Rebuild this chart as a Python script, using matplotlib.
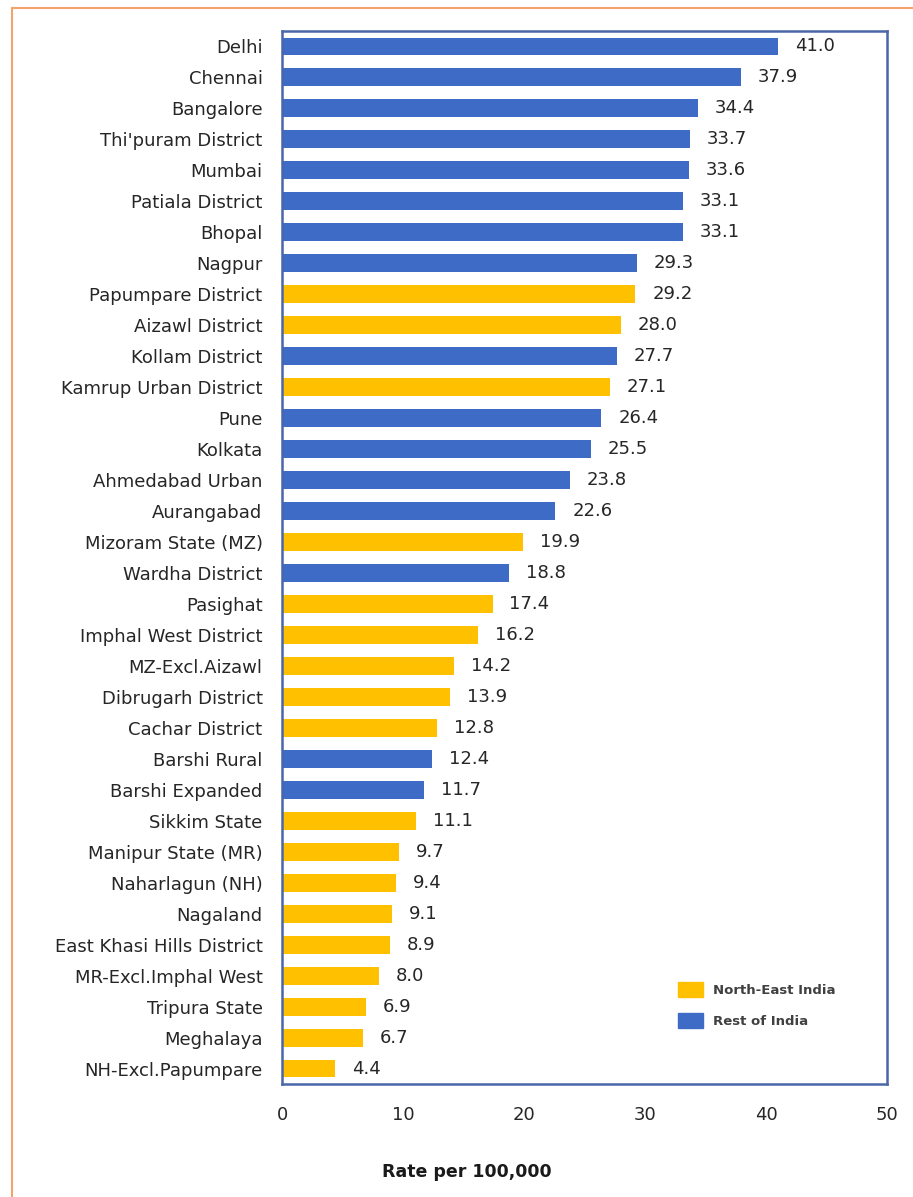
import matplotlib.pyplot as plt
from matplotlib.patches import Patch, Rectangle

plt.rcParams['font.family'] = ['DejaVu Sans']

registries = ["Delhi", "Chennai", "Bangalore", "Thi'puram District", "Mumbai",
              "Patiala District", "Bhopal", "Nagpur", "Papumpare District",
              "Aizawl District", "Kollam District", "Kamrup Urban District",
              "Pune", "Kolkata", "Ahmedabad Urban", "Aurangabad",
              "Mizoram State (MZ)", "Wardha District", "Pasighat",
              "Imphal West District", "MZ-Excl.Aizawl", "Dibrugarh District",
              "Cachar District", "Barshi Rural", "Barshi Expanded",
              "Sikkim State", "Manipur State (MR)", "Naharlagun (NH)",
              "Nagaland", "East Khasi Hills District", "MR-Excl.Imphal West",
              "Tripura State", "Meghalaya", "NH-Excl.Papumpare"]
rates = [41.0, 37.9, 34.4, 33.7, 33.6, 33.1, 33.1, 29.3, 29.2, 28.0, 27.7,
         27.1, 26.4, 25.5, 23.8, 22.6, 19.9, 18.8, 17.4, 16.2, 14.2, 13.9,
         12.8, 12.4, 11.7, 11.1, 9.7, 9.4, 9.1, 8.9, 8.0, 6.9, 6.7, 4.4]
# NE = North-East India registry, R = rest of India
region = ["R", "R", "R", "R", "R", "R", "R", "R", "NE", "NE", "R", "NE",
          "R", "R", "R", "R", "NE", "R", "NE", "NE", "NE", "NE", "NE", "R",
          "R", "NE", "NE", "NE", "NE", "NE", "NE", "NE", "NE", "NE"]

ne_col = '#ffc000'
rest_col = '#3d6bc5'
colors = [ne_col if r == "NE" else rest_col for r in region]

fig = plt.figure(figsize=(9.13, 11.97), dpi=100)
ax = fig.add_axes([0.3089, 0.0944, 0.6626, 0.8797])

# outer orange frame
fig.patches.append(Rectangle((12 / 913, -0.1), 1.2, 1 - 8 / 1197 + 0.1,
                             transform=fig.transFigure, fill=False,
                             edgecolor='#f4a46a', linewidth=1.5))

ypos = list(range(len(registries)))
ax.barh(ypos, rates, height=0.58, color=colors)
for y, v in zip(ypos, rates):
    ax.text(v + 1.4, y, f'{v:.1f}', va='center', ha='left',
            fontsize=13, color='#262626')

ax.set_xlim(0, 50)
ax.set_ylim(len(registries) - 0.5, -0.5)
ax.set_yticks(ypos)
ax.set_yticklabels(registries, fontsize=13, color='#262626')
ax.set_xticks(range(0, 51, 10))
ax.tick_params(axis='both', length=0, labelsize=13, colors='#262626')
ax.tick_params(axis='y', pad=14)
ax.tick_params(axis='x', pad=16)
for s in ax.spines.values():
    s.set_color('#4a67a8')
    s.set_linewidth(1.8)

fig.text(467 / 913, 1 - 1172 / 1197, 'Rate per 100,000', ha='center',
         va='center', fontsize=12.5, fontweight='bold', color='#1a1a1a')

handles = [Patch(color=ne_col, label='North-East India'),
           Patch(color=rest_col, label='Rest of India')]
ax.legend(handles=handles, loc='lower right', bbox_to_anchor=(0.935, 0.042),
          frameon=False, handlelength=1.9, handleheight=1.4, labelspacing=1.2,
          prop={'weight': 'bold', 'size': 9.5}, labelcolor='#404040')

fig.savefig('out.png', dpi=100)
